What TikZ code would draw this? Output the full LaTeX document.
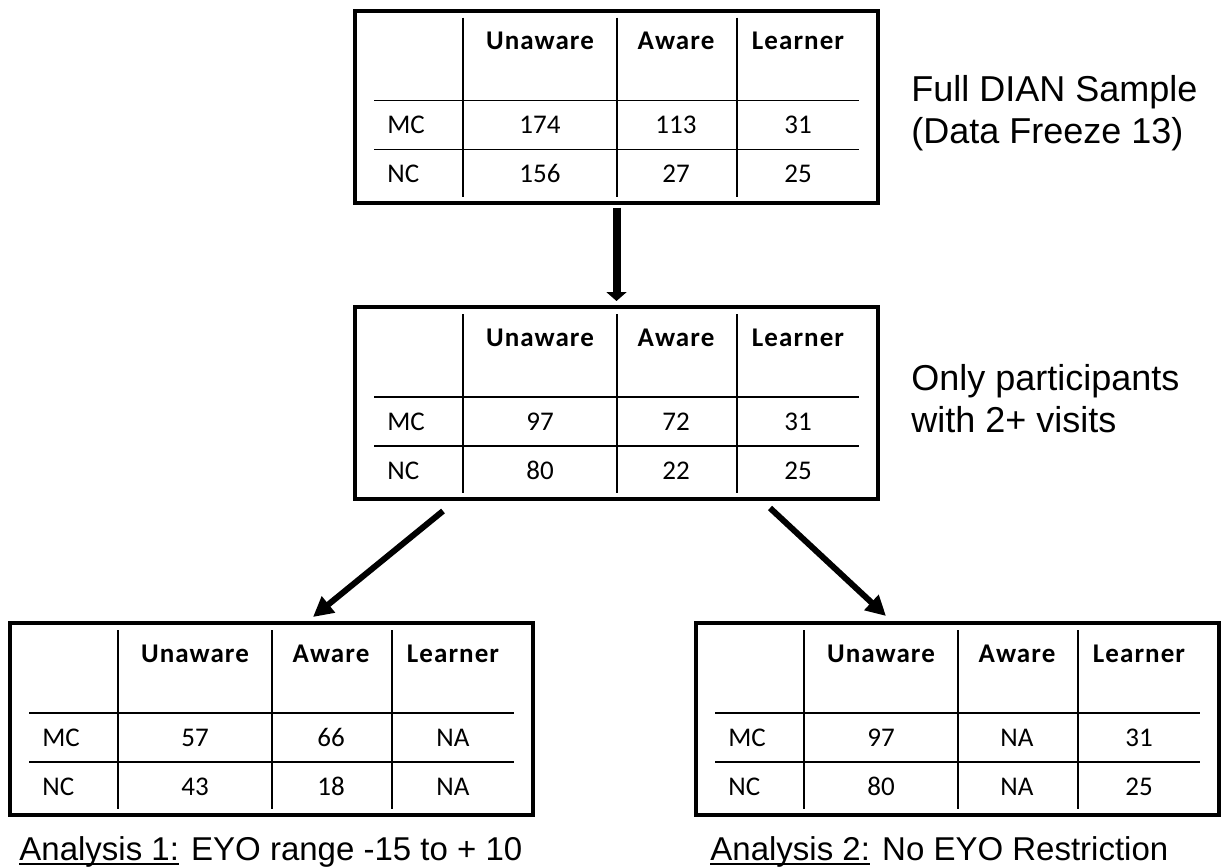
\documentclass[tikz,border=0pt]{standalone}
\usepackage{fontspec}
\setmainfont{Carlito}
\newfontfamily\notefont{Liberation Sans}
\newfontfamily\headfont[LetterSpace=4]{Carlito Bold}
\usetikzlibrary{arrows.meta,positioning,calc}
\tikzset{tbox/.style={draw, line width=2pt, outer sep=0pt, inner sep=0pt, minimum width=261.5pt, minimum height=96pt}}
\tikzset{tline/.style={line width=0.9pt}}
\tikzset{cell/.style={anchor=base, inner sep=0pt, font=\fontsize{13.5}{16}\selectfont}}
\tikzset{colhead/.style={cell, font=\headfont\fontsize{13.5}{16}\selectfont}}
\tikzset{sidenote/.style={anchor=base west, inner sep=0pt, align=left, font=\notefont\fontsize{18}{21}\selectfont}}
\tikzset{captext/.style={anchor=base west, inner sep=0pt, font=\notefont\fontsize{16.5}{20}\selectfont}}
\tikzset{arr/.style={draw, line width=3pt, -{Triangle[length=10pt,width=10pt]}}}
\tikzset{downarr/.style={draw, line width=4pt, -{Triangle[length=4.5pt,width=10pt]}, shorten <=2.5pt, shorten >=3pt}}
\newlength{\capulwd}
\newcommand{\capul}[1]{\settowidth{\capulwd}{#1}\rlap{\rule[-2.5pt]{\capulwd}{0.9pt}}#1}
% grid and cells of one table, relative to its box
\newcommand{\datatable}[7]{%
  \foreach \x in {108,262,382}
    \draw[tline] ($(#1.north west)+(\x,7)$) -- ($(#1.north west)+(\x,186)$);
  \foreach \y in {90,139}
    \draw[tline] ($(#1.north west)+(19,\y)$) -- ($(#1.north west)+(504,\y)$);
  \node[colhead] (#1-u) at ($(#1.north west)+(185,39)$) {Unaware};
  \node[colhead] (#1-a) at ($(#1.north west)+(321,39)$) {Aware};
  \node[colhead] (#1-l) at ($(#1.north west)+(443,39)$) {Learner};
  \node[cell, anchor=base west] (#1-mc) at ($(#1.north west)+(32,123)$) {MC};
  \node[cell, anchor=base west] (#1-nc) at ($(#1.north west)+(32,172)$) {NC};
  \node[cell] (#1-mcu) at ($(#1.north west)+(185,123)$) {#2};
  \node[cell] (#1-mca) at ($(#1.north west)+(321,123)$) {#3};
  \node[cell] (#1-mcl) at ($(#1.north west)+(443,123)$) {#4};
  \node[cell] (#1-ncu) at ($(#1.north west)+(185,172)$) {#5};
  \node[cell] (#1-nca) at ($(#1.north west)+(321,172)$) {#6};
  \node[cell] (#1-ncl) at ($(#1.north west)+(443,172)$) {#7};
}

\begin{document}
\begin{tikzpicture}[x=0.5pt, y=-0.5pt]
	\useasboundingbox (0,0) rectangle (1229,867);
	
	\node[tbox] (full) at (616.5,106.5) {};
	\node[tbox] (visits) at (616.5,403) {};
	\node[tbox] (ana1) at (271.5,719) {};
	\node[tbox] (ana2) at (957.5,719) {};
	
	\datatable{full}{174}{113}{31}{156}{27}{25}
	\datatable{visits}{97}{72}{31}{80}{22}{25}
	\datatable{ana1}{57}{66}{NA}{43}{18}{NA}
	\datatable{ana2}{97}{NA}{31}{80}{NA}{25}
	
	\node[sidenote] (fullnote) at (911,143) {Full DIAN Sample\\(Data Freeze 13)};
	\node[sidenote] (visitsnote) at (911,432) {Only participants\\with 2+ visits};
	
	\node[captext] (ana1cap) at (19,860) {\capul{Analysis 1:} EYO range -15 to + 10};
	\node[captext] (ana2cap) at (710,860) {\capul{Analysis 2:} No EYO Restriction};
	
	\draw[downarr] (full) -- (visits);
	\draw[arr] ($(visits.south west)+(88,12)$) -- ($(ana1.north west)+(303,-6)$);
	\draw[arr] ($(visits.south east)+(-108,9)$) -- ($(ana2.north west)+(190,-7)$);
\end{tikzpicture}
\end{document}
